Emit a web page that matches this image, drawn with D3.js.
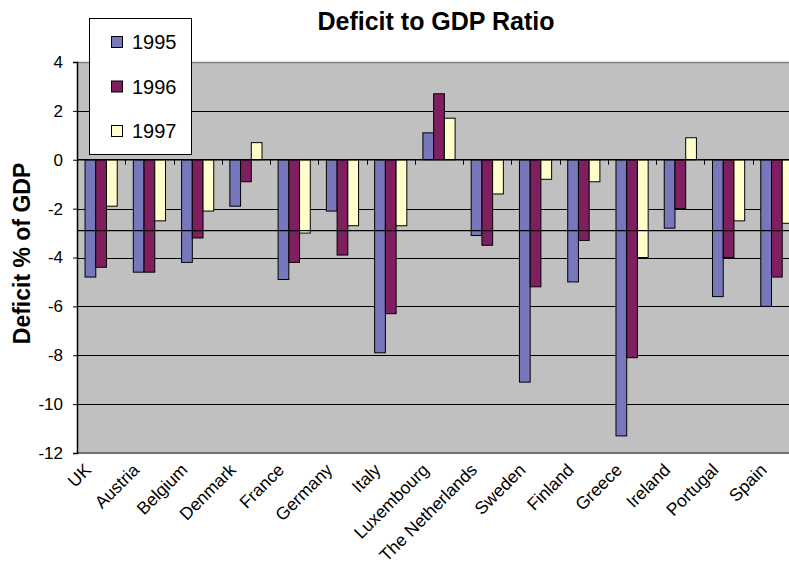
<!DOCTYPE html>
<html>
<head>
<meta charset="utf-8">
<script src="https://cdn.jsdelivr.net/npm/d3@7"></script>
<style>
  html, body { margin: 0; padding: 0; background: #fff; overflow: hidden; }
  svg { display: block; font-family: "Liberation Sans", Arial, sans-serif; }
</style>
</head>
<body>
<svg id="chart" width="789" height="565"></svg>
<script>
// Government deficit as a share of GDP, by country and year
const countries = ["UK", "Austria", "Belgium", "Denmark", "France", "Germany", "Italy",
  "Luxembourg", "The Netherlands", "Sweden", "Finland", "Greece", "Ireland", "Portugal", "Spain"];
const years = ["1995", "1996", "1997"];
const values1995 = [-4.8, -4.6, -4.2, -1.9, -4.9, -2.1, -7.9, 1.1, -3.1, -9.1, -5.0, -11.3, -2.8, -5.6, -6.0];
const values1996 = [-4.4, -4.6, -3.2, -0.9, -4.2, -3.9, -6.3, 2.7, -3.5, -5.2, -3.3, -8.1, -2.0, -4.0, -4.8];
const values1997 = [-1.9, -2.5, -2.1, 0.7, -3.0, -2.7, -2.7, 1.7, -1.4, -0.8, -0.9, -4.0, 0.9, -2.5, -2.6];
const yTicks = [4, 2, 0, -2, -4, -6, -8, -10, -12];
const referenceLevel = [-2.9];

const seriesValues = [values1995, values1996, values1997];
const colors = ["#7777BB", "#801F5F", "#FFFFCC"];

const svg = d3.select("#chart");
const plot = { left: 77, right: 801, top: 62, bottom: 453 };

const x0 = d3.scaleBand().domain(countries).range([plot.left, plot.right]).paddingInner(0).paddingOuter(0);
const x1 = d3.scaleBand().domain(years).range([0, x0.bandwidth()]).paddingInner(0).paddingOuter(0.75);
const y = d3.scaleLinear().domain([-12, 4]).range([plot.bottom, plot.top]);
const color = d3.scaleOrdinal().domain(years).range(colors);

// Plot background
svg.append("rect")
  .attr("x", plot.left).attr("y", plot.top)
  .attr("width", plot.right - plot.left).attr("height", plot.bottom - plot.top)
  .attr("fill", "#C0C0C0");

// Horizontal gridlines
svg.append("g")
  .selectAll("line")
  .data(yTicks.filter(d => d !== 4 && d !== -12 && d !== 0))
  .join("line")
  .attr("x1", plot.left).attr("x2", plot.right)
  .attr("y1", d => Math.round(y(d)) + 0.5).attr("y2", d => Math.round(y(d)) + 0.5)
  .attr("stroke", "#000").attr("stroke-width", 1);

// Top and bottom border of the plot area
svg.append("line")
  .attr("x1", plot.left).attr("x2", plot.right)
  .attr("y1", plot.top + 0.5).attr("y2", plot.top + 0.5)
  .attr("stroke", "#808080").attr("stroke-width", 1.5);
svg.append("line")
  .attr("x1", plot.left).attr("x2", plot.right)
  .attr("y1", plot.bottom).attr("y2", plot.bottom)
  .attr("stroke", "#707070").attr("stroke-width", 2);

// Bars
const rows = countries.map((c, i) => ({ country: c, vals: years.map((yr, j) => ({ year: yr, value: seriesValues[j][i] })) }));
svg.append("g")
  .selectAll("g")
  .data(rows)
  .join("g")
  .attr("transform", d => `translate(${x0(d.country)},0)`)
  .selectAll("rect")
  .data(d => d.vals)
  .join("rect")
  .attr("x", d => x1(d.year))
  .attr("width", x1.bandwidth())
  .attr("y", d => y(Math.max(0, d.value)))
  .attr("height", d => Math.abs(y(d.value) - y(0)))
  .attr("fill", d => color(d.year))
  .attr("stroke", "#000").attr("stroke-width", 1);

// Reference level line
svg.append("g")
  .selectAll("line")
  .data(referenceLevel)
  .join("line")
  .attr("x1", plot.left).attr("x2", plot.right)
  .attr("y1", d => y(d)).attr("y2", d => y(d))
  .attr("stroke", "#000").attr("stroke-width", 1.2);

// Zero line with category ticks
svg.append("line")
  .attr("x1", plot.left).attr("x2", plot.right)
  .attr("y1", y(0)).attr("y2", y(0))
  .attr("stroke", "#000").attr("stroke-width", 1.5);
svg.append("g")
  .selectAll("line")
  .data(countries.slice(1).concat(["__end"]))
  .join("line")
  .attr("x1", (d, i) => Math.round(plot.left + x0.step() * (i + 1)) + 0.5)
  .attr("x2", (d, i) => Math.round(plot.left + x0.step() * (i + 1)) + 0.5)
  .attr("y1", y(0)).attr("y2", y(0) + 5)
  .attr("stroke", "#000").attr("stroke-width", 1);

// Value axis
const yAxis = d3.axisLeft(y).tickValues(yTicks).tickSize(4).tickPadding(10).tickFormat(d => String(d));
const yg = svg.append("g").attr("transform", `translate(${plot.left},0)`).call(yAxis);
yg.select(".domain").attr("stroke", "#000").attr("stroke-width", 1.5);
yg.selectAll(".tick line").attr("stroke", "#000");
yg.selectAll(".tick text")
  .attr("font-size", 17).attr("fill", "#000")
  .attr("font-family", "'Liberation Sans', Arial, sans-serif");

// Category labels
svg.append("g")
  .selectAll("text")
  .data(countries)
  .join("text")
  .attr("transform", d => `translate(${x0(d) + x0.bandwidth() / 2 - 9},${471}) rotate(-45)`)
  .attr("text-anchor", "end")
  .attr("font-size", 17.5)
  .attr("fill", "#000")
  .text(d => d);

// Title
svg.append("text")
  .attr("x", 436).attr("y", 30)
  .attr("text-anchor", "middle")
  .attr("font-size", 25).attr("font-weight", "bold")
  .text("Deficit to GDP Ratio");

// Axis title
svg.append("text")
  .attr("transform", `translate(30,${(plot.top + plot.bottom) / 2 - 4}) rotate(-90)`)
  .attr("text-anchor", "middle")
  .attr("font-size", 23).attr("font-weight", "bold")
  .text("Deficit % of GDP");

// Legend
const legend = svg.append("g");
legend.append("rect")
  .attr("x", 89.5).attr("y", 18.5).attr("width", 102).attr("height", 136)
  .attr("fill", "#fff").attr("stroke", "#000").attr("stroke-width", 1);
const item = legend.selectAll("g.item")
  .data(years)
  .join("g")
  .attr("class", "item")
  .attr("transform", (d, i) => `translate(0,${i * 44.5})`);
item.append("rect")
  .attr("x", 111.5).attr("y", 36.5).attr("width", 11).attr("height", 11)
  .attr("fill", d => color(d)).attr("stroke", "#000").attr("stroke-width", 1);
item.append("text")
  .attr("x", 132).attr("y", 49)
  .attr("font-size", 20)
  .text(d => d);
</script>
</body>
</html>
